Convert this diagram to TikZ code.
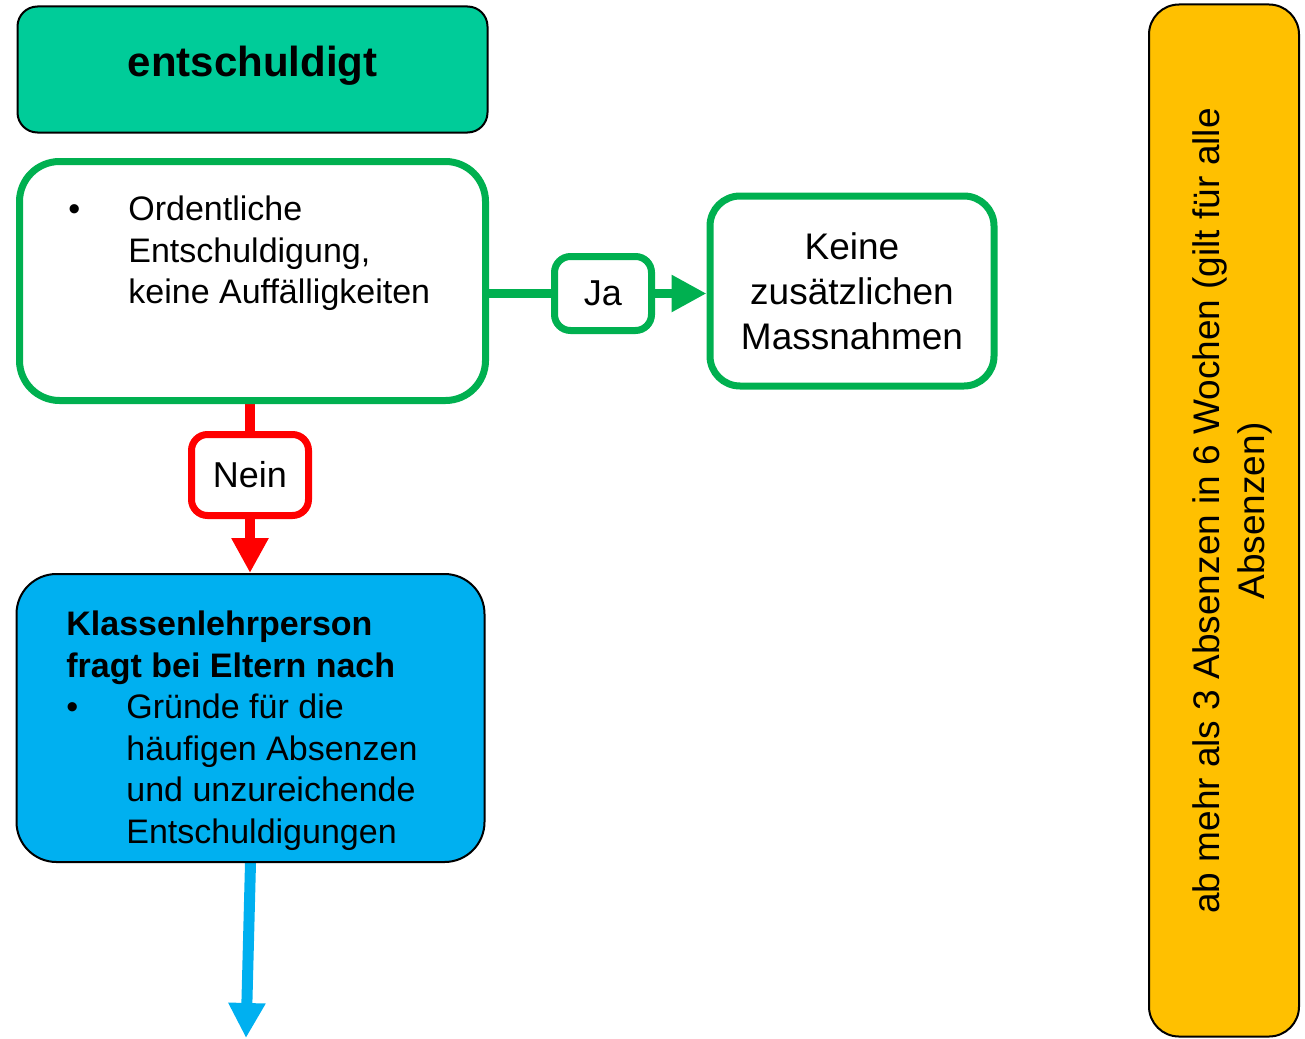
\documentclass[tikz,border=0pt]{standalone}
\usepackage{fontspec}
\setmainfont{Liberation Sans}
\usetikzlibrary{arrows.meta,backgrounds}
\definecolor{entgreen}{HTML}{00CC99}
\definecolor{okgreen}{HTML}{00B050}
\definecolor{neinred}{HTML}{FF0000}
\definecolor{klpblue}{HTML}{00B0F0}
\definecolor{absyellow}{HTML}{FFC000}

\begin{document}
\begin{tikzpicture}[x=0.5pt, y=-0.5pt,
  thinbox/.style={draw=black, line width=1pt},
  okbox/.style={draw=okgreen, line width=3.5pt, fill=white},
  neinbox/.style={draw=neinred, line width=3.5pt, fill=white, rounded corners=8pt},
  listtext/.style={inner sep=0pt, font=\fontsize{17}{20.8}\selectfont},
  bigtext/.style={font=\fontsize{18.5}{22.5}\selectfont},
  tip/.style={-{Triangle[length=17.5pt,width=17.5pt]}}]
\useasboundingbox (0,0) rectangle (1305,1038);

% Title
\node[thinbox, rounded corners=10pt, fill=entgreen, minimum width=235pt, minimum height=63pt, text depth=8.5pt, font=\fontsize{21}{25}\selectfont\bfseries] (title) at (252.5,69.5) {entschuldigt};

% Check of the excuse
\node[okbox, rounded corners=20pt, minimum width=233pt, minimum height=119.5pt] (ordbox) at (252.5,281) {};
\node[listtext, anchor=north west] (ordtxt) at (68,191) {\begin{tabular}{@{}p{30pt}@{}l@{}}
• & Ordentliche\\
 & Entschuldigung,\\
 & keine Auffälligkeiten
\end{tabular}};

% Ja
\node[okbox, rounded corners=8pt, minimum width=48.5pt, minimum height=37pt, font=\fontsize{18}{21}\selectfont] (ja) at (603,293.5) {Ja};
\node[okbox, rounded corners=15pt, minimum width=142pt, minimum height=95pt, align=center, bigtext] (keine) at (852,291) {Keine\\zusätzlichen\\Massnahmen};

% Nein
\node[neinbox, minimum width=58.5pt, minimum height=40.5pt, font=\fontsize{18}{21}\selectfont] (nein) at (250,475) {Nein};
\node[thinbox, rounded corners=20pt, fill=klpblue, minimum width=234pt, minimum height=144pt] (klp) at (250.5,718) {};
\node[listtext, anchor=north west] (klptxt) at (66,606) {\begin{tabular}{@{}p{30pt}@{}l@{}}
\multicolumn{2}{@{}l@{}}{\bfseries Klassenlehrperson}\\
\multicolumn{2}{@{}l@{}}{\bfseries fragt bei Eltern nach}\\
• & Gründe für die\\
 & häufigen Absenzen\\
 & und unzureichende\\
 & Entschuldigungen
\end{tabular}};
\coordinate (down) at (246,1038);

% Range of the rule
\node[thinbox, rounded corners=15pt, fill=absyellow, minimum width=75pt, minimum height=516pt] (abs) at (1224,520.5) {};
\node[bigtext, rotate=90, align=center] (abstxt) at (1232,511) {ab mehr als 3 Absenzen in 6 Wochen (gilt für alle\\Absenzen)};

% Connectors
\begin{scope}[on background layer]
\draw[okgreen, line width=4.5pt] (ja.west -| ordbox.east) -- (ja.west);
\draw[okgreen, line width=4.5pt, tip] (ja.east) -- (ja.east -| keine.west);
\draw[neinred, line width=5pt] (ordbox.south -| nein.north) -- (nein.north);
\draw[neinred, line width=5pt, tip] (nein.south) -- (nein.south |- klp.north);
\draw[klpblue, line width=5.5pt, tip] (klp.south) -- (down);
\end{scope}
\end{tikzpicture}
\end{document}
